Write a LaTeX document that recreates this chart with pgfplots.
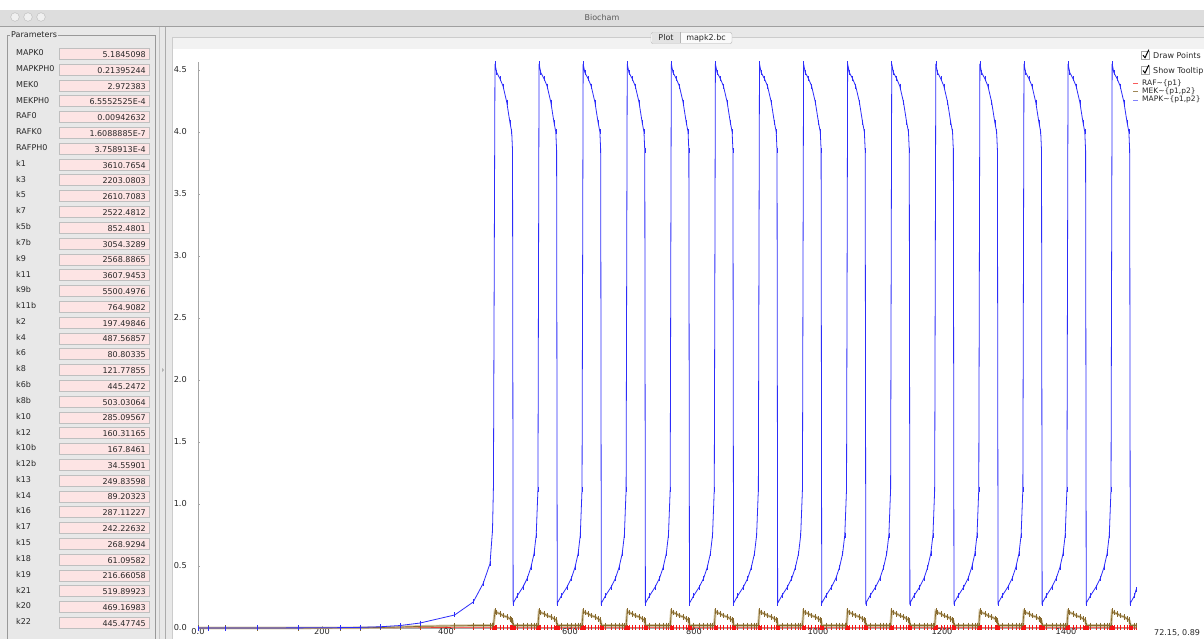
\documentclass[border=0pt]{standalone}
\usepackage{pgfplots}
\pgfplotsset{compat=1.18}
\usepackage{pgfplotstable}
\usepackage{fontspec}
\setmainfont{DejaVu Sans}

\definecolor{mapk}{RGB}{45,45,250}
\definecolor{mek}{RGB}{135,105,45}
\definecolor{mekband}{RGB}{200,185,145}
\definecolor{raf}{RGB}{245,20,20}
\definecolor{panel}{RGB}{232,232,232}
\definecolor{titlebar}{RGB}{221,221,221}
\definecolor{field}{RGB}{253,228,228}
\definecolor{guitext}{RGB}{40,40,40}
\newcommand\guifont{\fontsize{8}{9.6}\selectfont}

% time, MAPK~{p1,p2}, MEK~{p1,p2}, RAF~{p1}
\pgfplotstableread[row sep=\\]{
t mapk mek raf\\
0 0 0 0\\ 16 0 0 0\\ 44 0 0 0\\ 95 0.0005 0 0\\ 161 0.001 0.0002 0.0001\\ 229 0.003 0.001 0.0005\\
261 0.005 0.002 0.001\\ 294 0.01 0.004 0.002\\ 326 0.02 0.008 0.003\\ 358 0.04 0.013 0.004\\ 414 0.105 0.018 0.005\\
444 0.21 0.02 0.005\\ 460 0.36 0.02 0.005\\ 471 0.52 0.02 0.005\\ 475 0.79 0.02 0.005\\ 476.5 1.14 0.02 0.005\\
479.0 4.55 0.135 0.005\\ 481.7 4.48 0.125 0.005\\ 487.0 4.43 0.115 0.005\\ 492.0 4.37 0.100 0.005\\ 498.0 4.24 0.090 0.005\\ 503.0 4.08 0.075 0.005\\ 506.0 4.00 0.065 0.005\\ 507.3 3.85 0.055 0.005\\ 508.3 0.20 0.02 0.005\\ 515.0 0.26 0.02 0.005\\ 524.0 0.33 0.02 0.005\\ 531.0 0.40 0.02 0.005\\ 537.0 0.49 0.02 0.005\\ 542.0 0.60 0.02 0.005\\ 545.5 0.75 0.02 0.005\\ 548.3 1.12 0.02 0.005\\
550.1 4.55 0.135 0.005\\ 552.8 4.48 0.125 0.005\\ 558.1 4.43 0.115 0.005\\ 563.1 4.37 0.100 0.005\\ 569.1 4.24 0.090 0.005\\ 574.1 4.08 0.075 0.005\\ 577.1 4.00 0.065 0.005\\ 578.4 3.85 0.055 0.005\\ 579.4 0.20 0.02 0.005\\ 586.1 0.26 0.02 0.005\\ 595.1 0.33 0.02 0.005\\ 602.1 0.40 0.02 0.005\\ 608.1 0.49 0.02 0.005\\ 613.1 0.60 0.02 0.005\\ 616.6 0.75 0.02 0.005\\ 619.4 1.12 0.02 0.005\\
621.2 4.55 0.135 0.005\\ 623.9 4.48 0.125 0.005\\ 629.2 4.43 0.115 0.005\\ 634.2 4.37 0.100 0.005\\ 640.2 4.24 0.090 0.005\\ 645.2 4.08 0.075 0.005\\ 648.2 4.00 0.065 0.005\\ 649.5 3.85 0.055 0.005\\ 650.5 0.20 0.02 0.005\\ 657.2 0.26 0.02 0.005\\ 666.2 0.33 0.02 0.005\\ 673.2 0.40 0.02 0.005\\ 679.2 0.49 0.02 0.005\\ 684.2 0.60 0.02 0.005\\ 687.7 0.75 0.02 0.005\\ 690.5 1.12 0.02 0.005\\
692.3 4.55 0.135 0.005\\ 695.0 4.48 0.125 0.005\\ 700.3 4.43 0.115 0.005\\ 705.3 4.37 0.100 0.005\\ 711.3 4.24 0.090 0.005\\ 716.3 4.08 0.075 0.005\\ 719.3 4.00 0.065 0.005\\ 720.6 3.85 0.055 0.005\\ 721.6 0.20 0.02 0.005\\ 728.3 0.26 0.02 0.005\\ 737.3 0.33 0.02 0.005\\ 744.3 0.40 0.02 0.005\\ 750.3 0.49 0.02 0.005\\ 755.3 0.60 0.02 0.005\\ 758.8 0.75 0.02 0.005\\ 761.6 1.12 0.02 0.005\\
763.4 4.55 0.135 0.005\\ 766.1 4.48 0.125 0.005\\ 771.4 4.43 0.115 0.005\\ 776.4 4.37 0.100 0.005\\ 782.4 4.24 0.090 0.005\\ 787.4 4.08 0.075 0.005\\ 790.4 4.00 0.065 0.005\\ 791.7 3.85 0.055 0.005\\ 792.7 0.20 0.02 0.005\\ 799.4 0.26 0.02 0.005\\ 808.4 0.33 0.02 0.005\\ 815.4 0.40 0.02 0.005\\ 821.4 0.49 0.02 0.005\\ 826.4 0.60 0.02 0.005\\ 829.9 0.75 0.02 0.005\\ 832.7 1.12 0.02 0.005\\
834.5 4.55 0.135 0.005\\ 837.2 4.48 0.125 0.005\\ 842.5 4.43 0.115 0.005\\ 847.5 4.37 0.100 0.005\\ 853.5 4.24 0.090 0.005\\ 858.5 4.08 0.075 0.005\\ 861.5 4.00 0.065 0.005\\ 862.8 3.85 0.055 0.005\\ 863.8 0.20 0.02 0.005\\ 870.5 0.26 0.02 0.005\\ 879.5 0.33 0.02 0.005\\ 886.5 0.40 0.02 0.005\\ 892.5 0.49 0.02 0.005\\ 897.5 0.60 0.02 0.005\\ 901.0 0.75 0.02 0.005\\ 903.8 1.12 0.02 0.005\\
905.6 4.55 0.135 0.005\\ 908.3 4.48 0.125 0.005\\ 913.6 4.43 0.115 0.005\\ 918.6 4.37 0.100 0.005\\ 924.6 4.24 0.090 0.005\\ 929.6 4.08 0.075 0.005\\ 932.6 4.00 0.065 0.005\\ 933.9 3.85 0.055 0.005\\ 934.9 0.20 0.02 0.005\\ 941.6 0.26 0.02 0.005\\ 950.6 0.33 0.02 0.005\\ 957.6 0.40 0.02 0.005\\ 963.6 0.49 0.02 0.005\\ 968.6 0.60 0.02 0.005\\ 972.1 0.75 0.02 0.005\\ 974.9 1.12 0.02 0.005\\
976.7 4.55 0.135 0.005\\ 979.4 4.48 0.125 0.005\\ 984.7 4.43 0.115 0.005\\ 989.7 4.37 0.100 0.005\\ 995.7 4.24 0.090 0.005\\ 1000.7 4.08 0.075 0.005\\ 1003.7 4.00 0.065 0.005\\ 1005.0 3.85 0.055 0.005\\ 1006.0 0.20 0.02 0.005\\ 1012.7 0.26 0.02 0.005\\ 1021.7 0.33 0.02 0.005\\ 1028.7 0.40 0.02 0.005\\ 1034.7 0.49 0.02 0.005\\ 1039.7 0.60 0.02 0.005\\ 1043.2 0.75 0.02 0.005\\ 1046.0 1.12 0.02 0.005\\
1047.8 4.55 0.135 0.005\\ 1050.5 4.48 0.125 0.005\\ 1055.8 4.43 0.115 0.005\\ 1060.8 4.37 0.100 0.005\\ 1066.8 4.24 0.090 0.005\\ 1071.8 4.08 0.075 0.005\\ 1074.8 4.00 0.065 0.005\\ 1076.1 3.85 0.055 0.005\\ 1077.1 0.20 0.02 0.005\\ 1083.8 0.26 0.02 0.005\\ 1092.8 0.33 0.02 0.005\\ 1099.8 0.40 0.02 0.005\\ 1105.8 0.49 0.02 0.005\\ 1110.8 0.60 0.02 0.005\\ 1114.3 0.75 0.02 0.005\\ 1117.1 1.12 0.02 0.005\\
1118.9 4.55 0.135 0.005\\ 1121.6 4.48 0.125 0.005\\ 1126.9 4.43 0.115 0.005\\ 1131.9 4.37 0.100 0.005\\ 1137.9 4.24 0.090 0.005\\ 1142.9 4.08 0.075 0.005\\ 1145.9 4.00 0.065 0.005\\ 1147.2 3.85 0.055 0.005\\ 1148.2 0.20 0.02 0.005\\ 1154.9 0.26 0.02 0.005\\ 1163.9 0.33 0.02 0.005\\ 1170.9 0.40 0.02 0.005\\ 1176.9 0.49 0.02 0.005\\ 1181.9 0.60 0.02 0.005\\ 1185.4 0.75 0.02 0.005\\ 1188.2 1.12 0.02 0.005\\
1190.0 4.55 0.135 0.005\\ 1192.7 4.48 0.125 0.005\\ 1198.0 4.43 0.115 0.005\\ 1203.0 4.37 0.100 0.005\\ 1209.0 4.24 0.090 0.005\\ 1214.0 4.08 0.075 0.005\\ 1217.0 4.00 0.065 0.005\\ 1218.3 3.85 0.055 0.005\\ 1219.3 0.20 0.02 0.005\\ 1226.0 0.26 0.02 0.005\\ 1235.0 0.33 0.02 0.005\\ 1242.0 0.40 0.02 0.005\\ 1248.0 0.49 0.02 0.005\\ 1253.0 0.60 0.02 0.005\\ 1256.5 0.75 0.02 0.005\\ 1259.3 1.12 0.02 0.005\\
1261.1 4.55 0.135 0.005\\ 1263.8 4.48 0.125 0.005\\ 1269.1 4.43 0.115 0.005\\ 1274.1 4.37 0.100 0.005\\ 1280.1 4.24 0.090 0.005\\ 1285.1 4.08 0.075 0.005\\ 1288.1 4.00 0.065 0.005\\ 1289.4 3.85 0.055 0.005\\ 1290.4 0.20 0.02 0.005\\ 1297.1 0.26 0.02 0.005\\ 1306.1 0.33 0.02 0.005\\ 1313.1 0.40 0.02 0.005\\ 1319.1 0.49 0.02 0.005\\ 1324.1 0.60 0.02 0.005\\ 1327.6 0.75 0.02 0.005\\ 1330.4 1.12 0.02 0.005\\
1332.2 4.55 0.135 0.005\\ 1334.9 4.48 0.125 0.005\\ 1340.2 4.43 0.115 0.005\\ 1345.2 4.37 0.100 0.005\\ 1351.2 4.24 0.090 0.005\\ 1356.2 4.08 0.075 0.005\\ 1359.2 4.00 0.065 0.005\\ 1360.5 3.85 0.055 0.005\\ 1361.5 0.20 0.02 0.005\\ 1368.2 0.26 0.02 0.005\\ 1377.2 0.33 0.02 0.005\\ 1384.2 0.40 0.02 0.005\\ 1390.2 0.49 0.02 0.005\\ 1395.2 0.60 0.02 0.005\\ 1398.7 0.75 0.02 0.005\\ 1401.5 1.12 0.02 0.005\\
1403.3 4.55 0.135 0.005\\ 1406.0 4.48 0.125 0.005\\ 1411.3 4.43 0.115 0.005\\ 1416.3 4.37 0.100 0.005\\ 1422.3 4.24 0.090 0.005\\ 1427.3 4.08 0.075 0.005\\ 1430.3 4.00 0.065 0.005\\ 1431.6 3.85 0.055 0.005\\ 1432.6 0.20 0.02 0.005\\ 1439.3 0.26 0.02 0.005\\ 1448.3 0.33 0.02 0.005\\ 1455.3 0.40 0.02 0.005\\ 1461.3 0.49 0.02 0.005\\ 1466.3 0.60 0.02 0.005\\ 1469.8 0.75 0.02 0.005\\ 1472.6 1.12 0.02 0.005\\
1474.4 4.55 0.135 0.005\\ 1477.1 4.48 0.125 0.005\\ 1482.4 4.43 0.115 0.005\\ 1487.4 4.37 0.100 0.005\\ 1493.4 4.24 0.090 0.005\\ 1498.4 4.08 0.075 0.005\\ 1501.4 4.00 0.065 0.005\\ 1502.7 3.85 0.055 0.005\\ 1503.7 0.20 0.02 0.005\\ 1510.4 0.26 0.02 0.005\\ 1513.0 0.31 0.02 0.005\\
}\simdata

\begin{document}
\begin{tikzpicture}
\useasboundingbox (0pt,0pt) rectangle (1204pt,-639pt);
\clip (0pt,0pt) rectangle (1204pt,-639pt);

\begin{scope}[x=1pt,y=-1pt]
  % window
  \fill[panel] (0,0) rectangle (1204,639);
  \fill[white] (0,0) rectangle (1204,10);
  \fill[titlebar] (0,10) rectangle (1204,26);
  \draw[gray!75] (0,26.5) -- (1204,26.5);
  \foreach \cx in {15,28,41}
    \draw[gray!55, fill=gray!12] (\cx,17) circle (4.3);
  \node[font=\guifont, text=gray!70!black] at (602,17.5) {Biocham};

  % parameters panel
  \draw[gray!80] (7,35) rectangle (155,700);
  \node[fill=panel, inner sep=1pt, anchor=west, font=\guifont, text=guitext] at (10,35) {Parameters};
  \foreach \lab/\val [count=\i from 0] in {
      MAPK0/5.1845098, MAPKPH0/0.21395244, MEK0/2.972383, MEKPH0/6.5552525E-4,
      RAF0/0.00942632, RAFK0/1.6088885E-7, RAFPH0/3.758913E-4, k1/3610.7654,
      k3/2203.0803, k5/2610.7083, k7/2522.4812, k5b/852.4801, k7b/3054.3289,
      k9/2568.8865, k11/3607.9453, k9b/5500.4976, k11b/764.9082, k2/197.49846,
      k4/487.56857, k6/80.80335, k8/121.77855, k6b/445.2472, k8b/503.03064,
      k10/285.09567, k12/160.31165, k10b/167.8461, k12b/34.55901, k13/249.83598,
      k14/89.20323, k16/287.11227, k17/242.22632, k15/268.9294, k18/61.09582,
      k19/216.66058, k21/519.89923, k20/469.16983, k22/445.47745} {
    \pgfmathsetmacro\yy{53.8+15.8*\i}
    \draw[gray!50, fill=field] (59,\yy-5.5) rectangle (149,\yy+5.5);
    \node[anchor=west, inner sep=0pt, font=\guifont, text=guitext] at (16,\yy-1) {\lab};
    \node[anchor=east, inner sep=0pt, font=\guifont, text=guitext] at (146,\yy+0.8) {\val};
  }

  % split pane
  \draw[gray!45] (159,27) -- (159,639);
  \draw[gray!65] (165.5,27) -- (165.5,639);
  \fill[gray!60] (162,368) -- (164,370) -- (162,372) -- cycle;

  % plot tab pane
  \fill[gray!10] (172,37.5) rectangle (1204,49);
  \draw[gray!40] (1204,37.5) -- (172,37.5) -- (172,639);
  \fill[white] (173,49) rectangle (1204,639);
  \draw[gray!60, fill=gray!4, rounded corners=2pt] (651,32.5) rectangle (732,43.5);
  \fill[gray!22] (652,33.3) rectangle (680,42.7);
  \draw[gray!60] (680,32.5) -- (680,43.5);
  \node[font=\guifont, text=guitext] at (666,38) {Plot};
  \node[font=\guifont, text=guitext] at (706,38) {mapk2.bc};

  % options and legend
  \foreach \cy/\txt in {55.2/Draw Points, 70.5/Show Tooltip} {
    \draw[gray!70, fill=white] (1141.5,\cy-3.8) rectangle (1149,\cy+3.8);
    \draw[black, line width=1pt] (1143,\cy) -- (1145,\cy+2.5) -- (1148.8,\cy-5.5);
    \node[anchor=west, inner sep=0pt, font=\guifont, text=guitext] at (1153,\cy+0.8) {\txt};
  }
  \draw[raf!70] (1133,83.3) -- (1138,83.3);
  \draw[mek!80] (1133,91.7) -- (1138,91.7);
  \draw[mapk!60] (1133,100) -- (1138,100);
  \node[anchor=west, inner sep=0pt, font=\fontsize{7.5}{8}\selectfont, text=guitext] at (1142,83) {RAF\textasciitilde\{p1\}};
  \node[anchor=west, inner sep=0pt, font=\fontsize{7.5}{8}\selectfont, text=guitext] at (1142,91.4) {MEK\textasciitilde\{p1,p2\}};
  \node[anchor=west, inner sep=0pt, font=\fontsize{7.5}{8}\selectfont, text=guitext] at (1142,99.7) {MAPK\textasciitilde\{p1,p2\}};
  \node[anchor=west, inner sep=0pt, font=\guifont, text=guitext] at (1154,633) {72.15, 0.89};
\end{scope}

\begin{axis}[
  at={(198pt,-628pt)}, anchor=origin,
  x=0.62pt, y=124pt,
  xmin=0, xmax=1513, ymin=0, ymax=4.565,
  clip=false,
  axis x line=bottom, axis y line=left,
  axis line style={-, draw=gray!70, line width=0.8pt},
  tick align=inside, major tick length=2pt,
  tick style={gray!70},
  xtick={0,200,400,600,800,1000,1200,1400},
  xticklabels={0.0,200,400,600,800,1000,1200,1400},
  ytick={0,0.5,1,1.5,2,2.5,3,3.5,4,4.5},
  yticklabels={0.0,0.5,1.0,1.5,2.0,2.5,3.0,3.5,4.0,4.5},
  xticklabel style={font=\fontsize{8.2}{9}\selectfont, text=guitext, anchor=north, inner sep=0pt, yshift=-0.5pt},
  yticklabel style={font=\fontsize{8.2}{9}\selectfont, text=guitext, anchor=east, inner sep=0pt, xshift=-11pt},
]
  \addplot[raf, line width=0.7pt, mark=|, mark size=2.5pt, mark options={line width=0.5pt}]
    table[x=t, y=raf]{\simdata};
  \addplot[mekband, line width=2.6pt, opacity=0.8] table[x=t, y=mek]{\simdata};
  \addplot[mek, line width=0.7pt, mark=|, mark size=2.8pt, mark options={line width=0.5pt}]
    table[x=t, y=mek]{\simdata};
  \addplot[raf, only marks, mark=square*, mark size=1.6pt] coordinates {
    (479.0,0.005) (508.3,0.005) (550.1,0.005) (579.4,0.005) (621.2,0.005) (650.5,0.005)
    (692.3,0.005) (721.6,0.005) (763.4,0.005) (792.7,0.005) (834.5,0.005) (863.8,0.005)
    (905.6,0.005) (934.9,0.005) (976.7,0.005) (1006.0,0.005) (1047.8,0.005) (1077.1,0.005)
    (1118.9,0.005) (1148.2,0.005) (1190.0,0.005) (1219.3,0.005) (1261.1,0.005) (1290.4,0.005)
    (1332.2,0.005) (1361.5,0.005) (1403.3,0.005) (1432.6,0.005) (1474.4,0.005) (1503.7,0.005)};
  \addplot[mapk, line width=0.8pt, mark=|, mark size=2.5pt, mark options={line width=0.5pt}]
    table[x=t, y=mapk]{\simdata};
\end{axis}
\end{tikzpicture}
\end{document}
